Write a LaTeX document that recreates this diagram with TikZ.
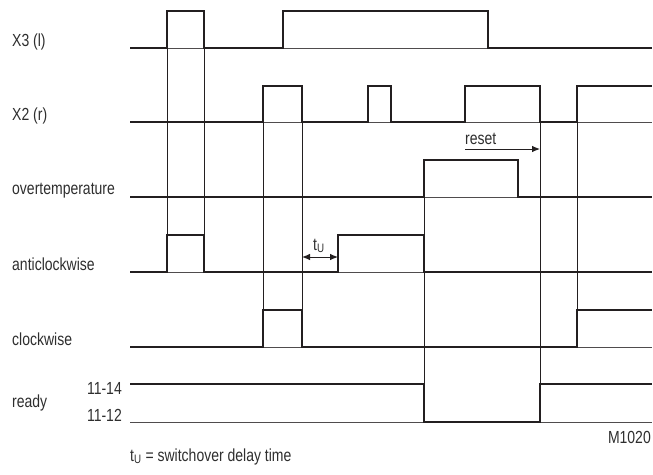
\documentclass[tikz,border=0pt]{standalone}
\usepackage{fontspec}
\setmainfont{Liberation Sans}[FakeStretch=0.8]
\usetikzlibrary{arrows.meta}
\definecolor{ink}{HTML}{231F20}
\definecolor{txt}{HTML}{2E2E2E}
\tikzset{
  sig/.style={draw=ink, line width=2.3pt, line join=miter},
  base/.style={draw=ink!80, line width=0.9pt},
  guide/.style={draw=ink, line width=0.9pt},
  lbl/.style={anchor=base west, inner sep=0pt, text=txt, font=\fontsize{17.5}{19}\selectfont},
  lblr/.style={anchor=base east, inner sep=0pt, text=txt, font=\fontsize{17.5}{19}\selectfont},
  tip/.style={-{Latex[length=8pt,width=6.5pt]}},
}
\begin{document}
\begin{tikzpicture}[x=1pt,y=-1pt]
\useasboundingbox (0,0) rectangle (653,474);
% thin baselines
\foreach \yy in {48,122,197,272,347,422} \draw[base] (130,\yy) -- (652,\yy);
% guide lines
\draw[guide] (167,11) -- (167,272);
\draw[guide] (204,11) -- (204,272);
\draw[guide] (263,86) -- (263,310);
\draw[guide] (302,86) -- (302,310);
\draw[guide] (424,160) -- (424,422);
\draw[guide] (540,86) -- (540,422);
\draw[guide] (577,86) -- (577,310);
% signals
\draw[sig] (130,48) -- (167,48) -- (167,11) -- (204,11) -- (204,48) -- (283,48) -- (283,11) -- (488,11) -- (488,48) -- (652,48);
\draw[sig] (130,122) -- (263,122) -- (263,86) -- (302,86) -- (302,122) -- (368,122) -- (368,86) -- (391,86) -- (391,122) -- (465,122) -- (465,86) -- (540,86) -- (540,122) -- (577,122) -- (577,86) -- (652,86);
\draw[sig] (130,197) -- (424,197) -- (424,160) -- (518,160) -- (518,197) -- (652,197);
\draw[sig] (130,272) -- (167,272) -- (167,235) -- (204,235) -- (204,272) -- (338,272) -- (338,235) -- (424,235) -- (424,272) -- (652,272);
\draw[sig] (130,347) -- (263,347) -- (263,310) -- (302,310) -- (302,347) -- (577,347) -- (577,310) -- (652,310);
\draw[sig] (130,384) -- (424,384) -- (424,422) -- (540,422) -- (540,384) -- (652,384);
% labels
\node[lbl] (lx3) at (12,46) {X3 (l)};
\node[lbl] (lx2) at (12,120) {X2 (r)};
\node[lbl] (lot) at (12,194) {overtemperature};
\node[lbl] (lac) at (12,270) {anticlockwise};
\node[lbl] (lcw) at (12,345) {clockwise};
\node[lbl] (lrd) at (12,407) {ready};
\node[lblr] (l14) at (122,394) {11-14};
\node[lblr] (l12) at (122,421) {11-12};
\node[lblr] (mid) at (651,443) {M1020};
\node[lbl] (note) at (130,461) {t\textsubscript{U} = switchover delay time};
% t_u arrow
\coordinate (tuA) at (302,257);
\coordinate (tuB) at (338,257);
\draw[ink, line width=0.9pt, {Latex[length=8pt,width=6.5pt]}-{Latex[length=8pt,width=6.5pt]}] (tuA) -- (tuB);
\node[lbl] (tu) at (313,250) {t\textsubscript{U}};
% reset arrow
\coordinate (rsA) at (465,149);
\coordinate (rsB) at (540,149);
\draw[ink, line width=0.9pt, tip] (rsA) -- (rsB);
\node[lbl] (rs) at (465,144) {reset};
\end{tikzpicture}
\end{document}
